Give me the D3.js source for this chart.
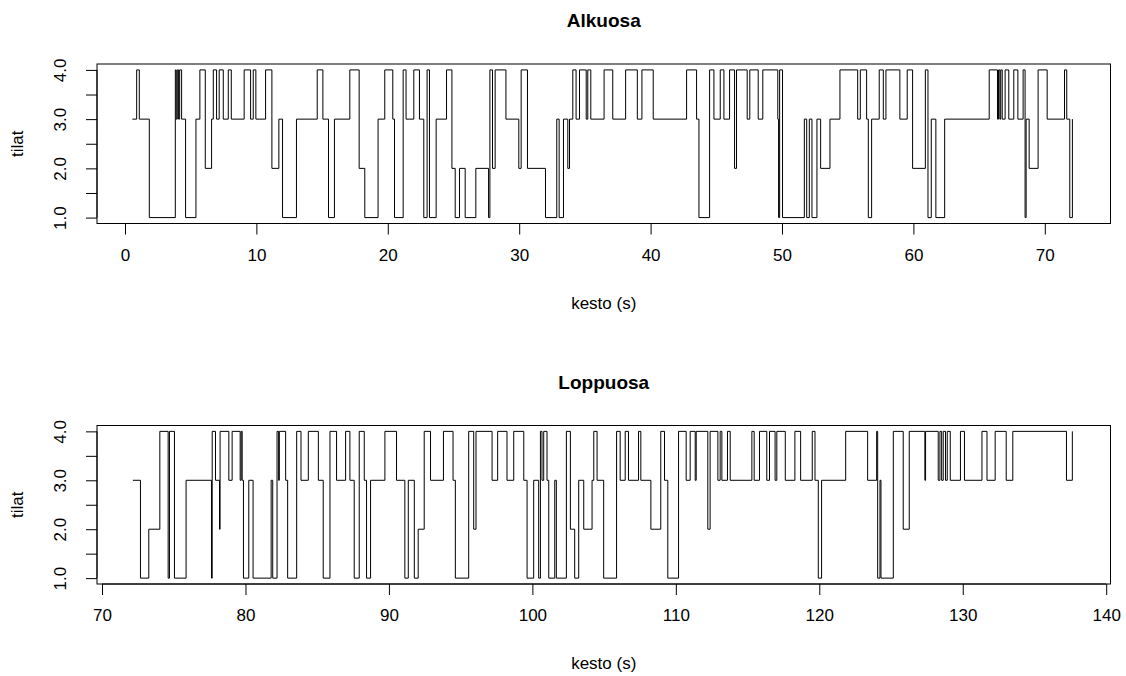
<!DOCTYPE html>
<html>
<head>
<meta charset="utf-8">
<script src="https://cdn.jsdelivr.net/npm/d3@7"></script>
<style>
  html, body { margin: 0; padding: 0; background: #fff; }
  svg { display: block; font-family: "Liberation Sans", Arial, Helvetica, sans-serif; }
</style>
</head>
<body>
<svg id="chart" width="1126" height="676"></svg>
<script>
// State sequence, first part: time (s) at which each state starts
const alkuTimes = [0.56, 0.89, 1.09, 1.85, 3.83, 3.9, 3.98, 4.08, 4.16, 4.31, 4.61, 5.4, 5.7, 6.11, 6.59, 6.72, 6.97, 7.17, 7.48, 7.86, 8.09, 9.07, 9.56, 9.76, 9.96, 10.7, 11.18, 11.71, 11.99, 13.05, 14.63, 15.06, 15.49, 15.94, 17.11, 17.82, 18.25, 19.26, 19.77, 20.38, 20.51, 21.17, 21.39, 21.98, 22.41, 22.74, 22.99, 23.17, 23.68, 24.47, 24.88, 25.13, 25.46, 25.89, 26.7, 27.67, 27.77, 27.97, 28.17, 28.99, 29.97, 30.15, 30.63, 32.0, 32.86, 33.04, 33.37, 33.7, 33.83, 34.08, 34.33, 34.59, 35.1, 35.22, 35.45, 36.46, 37.12, 38.1, 38.99, 39.34, 40.2, 42.74, 43.5, 43.68, 44.49, 44.82, 45.3, 45.58, 46.01, 46.39, 46.54, 47.35, 47.55, 48.19, 48.54, 49.68, 49.74, 49.82, 50.04, 51.7, 51.88, 52.08, 52.28, 52.66, 52.94, 53.65, 54.41, 55.76, 55.96, 56.44, 56.57, 56.82, 57.4, 57.71, 57.91, 58.97, 59.53, 59.94, 60.91, 61.11, 61.36, 61.71, 62.38, 65.77, 66.4, 66.48, 66.58, 66.65, 66.76, 66.98, 67.26, 67.64, 67.95, 68.35, 68.5, 68.58, 68.81, 69.49, 70.18, 71.5, 71.67, 71.9, 72.1];
const alkuStates = [3, 4, 3, 1, 4, 3, 4, 3, 4, 3, 1, 3, 4, 2, 3, 4, 3, 4, 3, 4, 3, 4, 3, 4, 3, 4, 2, 3, 1, 3, 4, 3, 1, 3, 4, 2, 1, 3, 4, 3, 1, 4, 3, 4, 3, 1, 4, 1, 3, 4, 2, 1, 2, 1, 2, 1, 4, 2, 4, 3, 2, 4, 2, 1, 3, 1, 3, 2, 3, 4, 3, 4, 3, 4, 3, 4, 3, 4, 3, 4, 3, 4, 3, 1, 4, 3, 4, 3, 4, 2, 4, 3, 4, 3, 4, 3, 1, 4, 1, 3, 1, 3, 1, 3, 2, 3, 4, 3, 4, 3, 1, 3, 4, 3, 4, 3, 4, 2, 4, 1, 3, 1, 3, 4, 3, 4, 3, 4, 3, 4, 3, 4, 3, 4, 1, 3, 2, 4, 3, 4, 3, 1, 3];

// State sequence, second part
const loppuTimes = [72.15, 72.68, 73.26, 74.03, 74.61, 74.7, 75.05, 75.86, 77.63, 77.68, 77.91, 78.19, 78.23, 78.84, 79.07, 79.63, 79.7, 79.77, 79.86, 80.23, 80.53, 81.79, 81.9, 82.2, 82.31, 82.36, 82.8, 82.94, 83.57, 83.87, 84.38, 85.08, 85.42, 85.89, 86.35, 86.98, 87.28, 87.58, 87.93, 88.28, 88.44, 88.72, 89.72, 90.53, 91.11, 91.35, 91.77, 92.04, 92.46, 92.9, 93.8, 94.47, 94.63, 95.56, 95.91, 96.07, 97.19, 97.58, 98.23, 98.7, 99.4, 99.63, 100.09, 100.44, 100.56, 100.67, 100.79, 101.02, 101.14, 101.56, 101.67, 102.37, 102.65, 102.95, 103.23, 103.58, 104.16, 104.28, 104.51, 104.97, 105.87, 106.12, 106.47, 106.7, 107.4, 107.56, 108.26, 108.95, 109.21, 109.44, 110.19, 110.72, 111.0, 111.35, 111.42, 112.23, 112.39, 112.93, 113.09, 113.21, 113.6, 113.79, 115.3, 115.46, 115.83, 116.34, 116.53, 116.92, 117.04, 117.63, 118.3, 118.7, 119.51, 119.7, 119.93, 120.16, 121.84, 123.37, 124.0, 124.07, 124.23, 124.3, 125.16, 125.85, 126.27, 127.36, 127.41, 128.29, 128.41, 128.53, 128.64, 128.8, 128.92, 129.13, 129.84, 130.12, 131.34, 131.69, 132.26, 133.03, 133.49, 137.23, 137.64];
const loppuStates = [3, 1, 2, 4, 1, 4, 1, 3, 1, 4, 3, 2, 4, 3, 4, 3, 4, 3, 1, 3, 1, 3, 1, 4, 3, 4, 3, 1, 4, 3, 4, 3, 1, 4, 3, 4, 3, 1, 4, 3, 1, 3, 4, 3, 1, 3, 1, 2, 4, 3, 4, 3, 1, 4, 2, 4, 3, 4, 3, 4, 3, 1, 3, 1, 4, 3, 4, 3, 1, 3, 1, 4, 2, 1, 3, 2, 3, 4, 3, 1, 4, 3, 4, 3, 4, 3, 2, 4, 3, 1, 4, 3, 4, 3, 4, 2, 4, 3, 4, 3, 4, 3, 4, 3, 4, 3, 4, 3, 4, 3, 4, 3, 4, 3, 1, 3, 4, 3, 4, 1, 3, 1, 4, 2, 4, 3, 4, 3, 4, 3, 4, 3, 4, 3, 4, 3, 4, 3, 4, 3, 4, 3, 4];

// Axis ticks and labels
const alkuTicks = [0, 10, 20, 30, 40, 50, 60, 70];
const loppuTicks = [70, 80, 90, 100, 110, 120, 130, 140];
const stateTicks = [1.0, 1.5, 2.0, 2.5, 3.0, 3.5, 4.0];
const stateLabels = [1.0, 2.0, 3.0, 4.0];

// Axis ranges (R-style 4% padding around the data)
const alkuDomain = [-2.13, 75.0];
const loppuDomain = [69.65, 140.3];
const stateDomain = [0.88, 4.12];

const titles = ["Alkuosa", "Loppuosa"];
const xTitle = "kesto (s)";
const yTitle = "tilat";

const svg = d3.select("#chart");
svg.append("rect").attr("width", 1126).attr("height", 676).attr("fill", "#fff");

const left = 97, right = 1110.5;
const axisFont = 17, titleFont = 19;
const tickLen = 11;

function panel(times, states, domain, ticks, title, top, bottom) {
  const x = d3.scaleLinear().domain(domain).range([left, right]);
  const y = d3.scaleLinear().domain(stateDomain).range([bottom, top]);
  const g = svg.append("g");

  const pts = times.map((t, i) => [t, states[i]]);
  const line = d3.line().x(d => x(d[0])).y(d => y(d[1])).curve(d3.curveStepAfter);
  g.append("path").attr("d", line(pts))
    .attr("fill", "none").attr("stroke", "#000").attr("stroke-width", 1);

  // plot frame
  g.append("rect").attr("x", left).attr("y", top)
    .attr("width", right - left).attr("height", bottom - top)
    .attr("fill", "none").attr("stroke", "#000").attr("stroke-width", 1);

  // x axis
  const xa = g.append("g").attr("transform", `translate(0,${bottom})`)
    .call(d3.axisBottom(x).tickValues(ticks).tickSize(tickLen).tickPadding(14).tickFormat(d3.format("d")));
  xa.select(".domain").attr("d", `M${x(ticks[0])},0H${x(ticks[ticks.length - 1])}`);
  xa.selectAll("text").attr("font-size", axisFont).attr("fill", "#000")
    .attr("font-family", "Liberation Sans, Arial, sans-serif");

  // y axis
  const ya = g.append("g").attr("transform", `translate(${left},0)`)
    .call(d3.axisLeft(y).tickValues(stateTicks).tickSize(tickLen)
      .tickFormat(d => stateLabels.includes(d) ? d3.format(".1f")(d) : ""));
  ya.select(".domain").attr("d", `M0,${y(1)}V${y(4)}`);
  ya.selectAll("text")
    .attr("font-size", axisFont).attr("fill", "#000")
    .attr("font-family", "Liberation Sans, Arial, sans-serif")
    .attr("text-anchor", "middle").attr("dy", null).attr("x", null)
    .attr("transform", `translate(-31,0) rotate(-90)`);

  g.append("text").attr("x", (left + right) / 2).attr("y", top - 37)
    .attr("text-anchor", "middle").attr("font-size", titleFont).attr("font-weight", "bold")
    .text(title);
  g.append("text").attr("x", (left + right) / 2).attr("y", bottom + 85)
    .attr("text-anchor", "middle").attr("font-size", axisFont).text(xTitle);
  g.append("text").attr("transform", `translate(23,${(top + bottom) / 2}) rotate(-90)`)
    .attr("text-anchor", "middle").attr("font-size", axisFont).text(yTitle);
}

panel(alkuTimes, alkuStates, alkuDomain, alkuTicks, titles[0], 64, 223.5);
panel(loppuTimes, loppuStates, loppuDomain, loppuTicks, titles[1], 425.5, 584);
</script>
</body>
</html>
